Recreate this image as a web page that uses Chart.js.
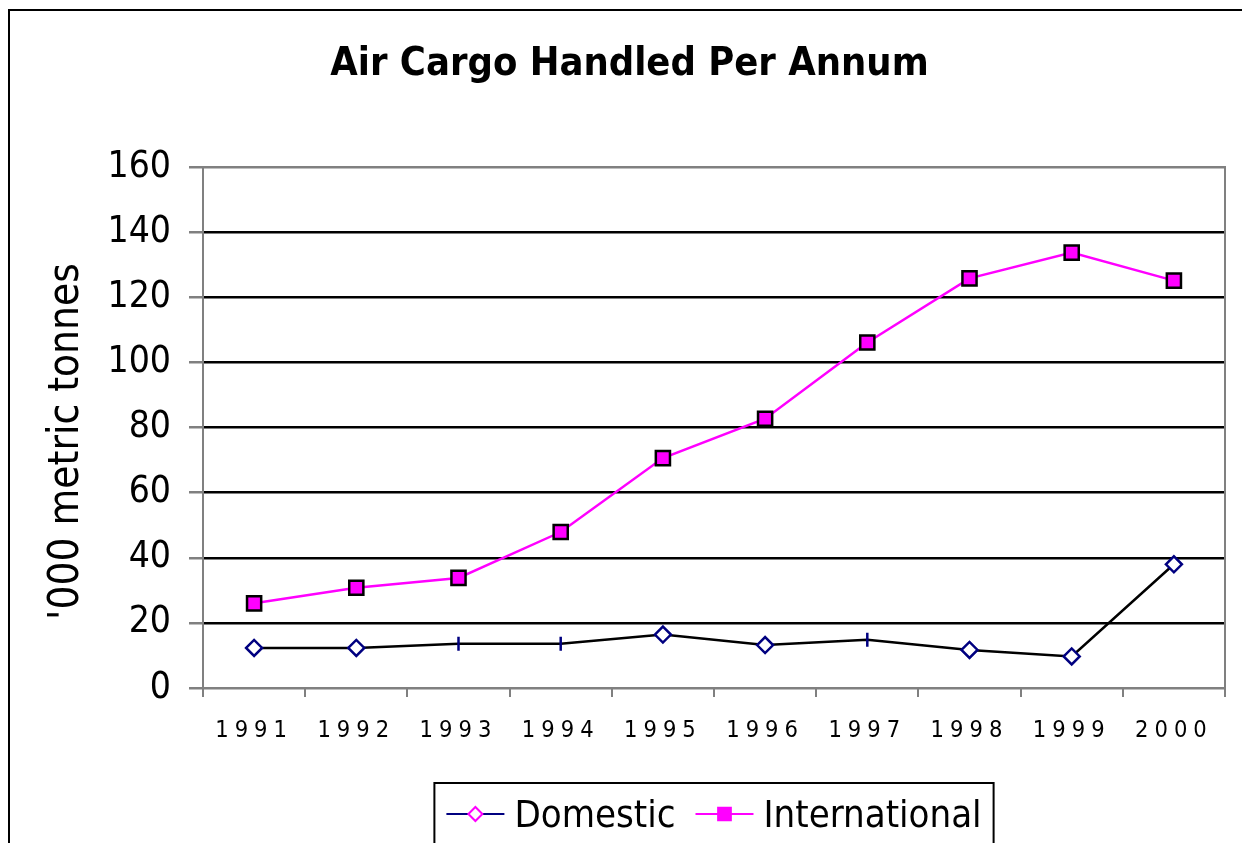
<!DOCTYPE html>
<html>
<head>
<meta charset="utf-8">
<script src="https://cdn.jsdelivr.net/npm/chart.js@4.4.1/dist/chart.umd.min.js"></script>
<style>
  body { margin: 0; background: #fff; }
  #wrap { width: 1242px; height: 843px; position: relative; }
</style>
</head>
<body>
<div id="wrap"><canvas id="cargo-chart"></canvas></div>
<script>
const years = ['1991', '1992', '1993', '1994', '1995', '1996', '1997', '1998', '1999', '2000'];
const domestic = [12.3, 12.3, 13.6, 13.6, 16.4, 13.2, 14.8, 11.7, 9.7, 38.0];
const international = [26.0, 30.8, 33.8, 47.9, 70.6, 82.7, 106.1, 125.8, 133.7, 125.1];
const yTicks = [0, 20, 40, 60, 80, 100, 120, 140, 160];

const FONT = "'DejaVu Sans Condensed', 'DejaVu Sans', sans-serif";
const GREY = '#808080';

// Excel drew some domestic markers as little vertical dashes
const domStyles = ['rectRot', 'rectRot', 'line', 'line', 'rectRot', 'rectRot', 'line', 'rectRot', 'rectRot', 'rectRot'];
const domRot = domStyles.map(s => s === 'line' ? 90 : 0);
const domRadius = domStyles.map(s => s === 'line' ? 7 : 8);

const framePlugin = {
  id: 'frame',
  beforeDraw(chart) {
    const ctx = chart.ctx;
    ctx.save();
    ctx.fillStyle = '#fff';
    ctx.fillRect(0, 0, chart.width, chart.height);
    ctx.strokeStyle = '#000';
    ctx.lineWidth = 2;
    ctx.beginPath();
    ctx.moveTo(9, chart.height + 5);
    ctx.lineTo(9, 10);
    ctx.lineTo(chart.width + 5, 10);
    ctx.stroke();
    ctx.restore();
  },
  afterLayout(chart) {
    const xs = chart.scales.x;
    if (xs && !xs._spaced) {
      const orig = xs.drawLabels;
      xs.drawLabels = function(area) {
        this.ctx.save();
        this.ctx.letterSpacing = '6px';
        orig.call(this, area);
        this.ctx.restore();
      };
      xs._spaced = true;
    }
    const ys = chart.scales.y;
    if (ys && !ys._shifted) {
      // the axis title sits a little below the middle of the axis
      const origTitle = ys.drawTitle;
      ys.drawTitle = function() {
        this.ctx.save();
        this.ctx.translate(0, 14);
        origTitle.call(this);
        this.ctx.restore();
      };
      ys._shifted = true;
    }
  },
  beforeDatasetsDraw(chart) {
    const {ctx, chartArea: a} = chart;
    ctx.save();
    ctx.strokeStyle = GREY;
    ctx.lineWidth = 2;
    ctx.beginPath();
    ctx.moveTo(a.left, a.top);
    ctx.lineTo(a.right, a.top);
    ctx.lineTo(a.right, a.bottom);
    ctx.stroke();
    ctx.restore();
  }
};

// legend drawn Excel-style: line sample with marker in the middle, boxed
const legendPlugin = {
  id: 'boxLegend',
  afterDraw(chart) {
    const ctx = chart.ctx;
    const a = chart.chartArea;
    const items = [
      {text: chart.data.datasets[0].label, line: '#000080', style: 'rectRot', fill: '#fff', stroke: '#ff00ff', r: 7},
      {text: chart.data.datasets[1].label, line: '#ff00ff', style: 'rect', fill: '#ff00ff', stroke: '#ff00ff', r: 9}
    ];
    const pad = 12, sample = 58, gap = 10, itemGap = 20;
    ctx.save();
    ctx.font = '38px ' + FONT;
    let total = pad * 2;
    items.forEach((it, i) => {
      it.w = ctx.measureText(it.text).width;
      total += sample + gap + it.w + (i ? itemGap : 0);
    });
    const top = 783, h = 62;
    let x = (a.left + a.right) / 2 - total / 2;
    ctx.lineWidth = 2;
    ctx.strokeStyle = '#000';
    ctx.strokeRect(x, top, total, h);
    const cy = top + h / 2;
    x += pad;
    items.forEach((it, i) => {
      if (i) x += itemGap;
      ctx.strokeStyle = it.line;
      ctx.lineWidth = 2;
      ctx.beginPath();
      ctx.moveTo(x, cy);
      ctx.lineTo(x + sample, cy);
      ctx.stroke();
      ctx.fillStyle = it.fill;
      ctx.strokeStyle = it.stroke;
      Chart.helpers.drawPoint(ctx, {pointStyle: it.style, radius: it.r, borderWidth: 2, rotation: 0}, x + sample / 2, cy);
      x += sample + gap;
      ctx.fillStyle = '#000';
      ctx.textBaseline = 'middle';
      ctx.textAlign = 'left';
      ctx.fillText(it.text, x, cy + 3);
      x += it.w;
    });
    ctx.restore();
  }
};

const ctx = document.getElementById('cargo-chart').getContext('2d');

const cargoChart = new Chart(ctx, {
  type: 'line',
  data: {
    labels: years,
    datasets: [{
      label: 'Domestic',
      data: domestic,
      borderColor: '#000',
      borderWidth: 2.5,
      pointStyle: domStyles,
      pointRotation: domRot,
      pointRadius: domRadius,
      pointBorderWidth: 2.5,
      pointBorderColor: '#000080',
      pointBackgroundColor: '#fff',
      tension: 0
    }, {
      label: 'International',
      data: international,
      borderColor: '#ff00ff',
      borderWidth: 2.5,
      pointStyle: 'rect',
      pointRadius: 10,
      pointBorderWidth: 2.5,
      pointBorderColor: '#000',
      pointBackgroundColor: '#ff00ff',
      tension: 0
    }]
  },
  options: {
    responsive: true,
    maintainAspectRatio: false,
    animation: false,
    layout: {
      padding: { left: 34, right: 17, top: 0, bottom: 0 }
    },
    plugins: {
      legend: { display: false },
      tooltip: { enabled: false },
      title: {
        display: true,
        text: 'Air Cargo Handled Per Annum',
        color: '#000',
        font: { family: FONT, size: 39.5, weight: 'bold' },
        padding: { top: 41, bottom: 78.6 }
      }
    },
    scales: {
      x: {
        offset: true,
        afterFit(scale) { scale.height = 155; },
        grid: {
          offset: true,
          drawOnChartArea: false,
          color: GREY,
          lineWidth: 2,
          tickLength: 9
        },
        border: { color: GREY, width: 2 },
        ticks: {
          color: '#000',
          padding: 20,
          maxRotation: 0,
          font: { family: FONT, size: 23.5 }
        }
      },
      y: {
        min: 0,
        max: 160,
        afterFit(scale) { scale.width = 169; },
        afterBuildTicks(scale) {
          scale.ticks = yTicks.map(v => ({ value: v }));
        },
        grid: {
          color: c => (c.tick && (c.tick.value === 0 || c.tick.value === 160)) ? GREY : '#000',
          lineWidth: 2.5,
          tickColor: GREY,
          tickLength: 14
        },
        border: { color: GREY, width: 2 },
        ticks: {
          color: '#000',
          padding: 18,
          font: { family: FONT, size: 37 }
        },
        title: {
          display: true,
          text: "'000 metric tonnes",
          color: '#000',
          font: { family: FONT, size: 42 },
          padding: { top: 8 }
        }
      }
    }
  },
  plugins: [framePlugin, legendPlugin]
});
</script>
</body>
</html>
